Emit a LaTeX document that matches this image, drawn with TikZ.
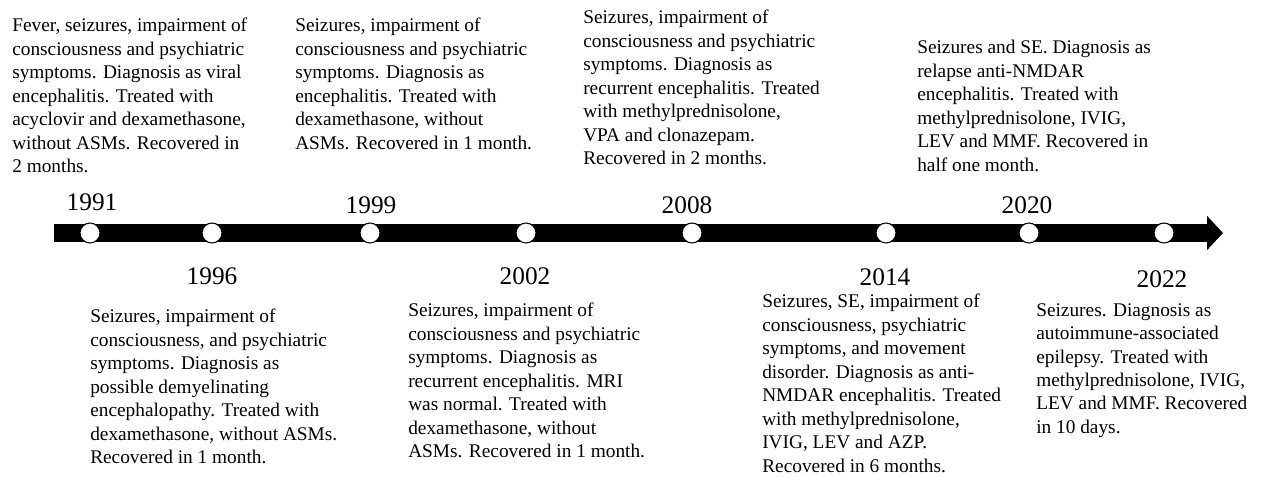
\documentclass[tikz,border=0pt]{standalone}
\usepackage{fontspec}
\setmainfont{Liberation Serif}
\usetikzlibrary{positioning,arrows.meta}
\newcommand{\evtext}{\fontsize{14.5}{17.6}\selectfont}
\newcommand{\yrtext}{\fontsize{19}{22}\selectfont}

\begin{document}
\begin{tikzpicture}[x=0.75pt, y=-0.75pt,
  evt/.style={anchor=north west, align=left, inner sep=0pt, font=\evtext},
  yr/.style={anchor=base, inner sep=0pt, font=\yrtext},
  dot/.style={circle, draw=black, fill=white, line width=0.8pt, minimum size=15pt, inner sep=0pt}]
  \useasboundingbox (0,0) rectangle (1265,476);
  % time axis
  \coordinate (tl-start) at (54,233);
  \coordinate (tl-end) at (1223,233);
  \draw[line width=13.5pt, -{Triangle[length=12pt, width=25pt]}] (tl-start) -- (tl-end);
  \foreach \x/\n in {90/1991, 212/1996, 370/1999, 526/2002, 692/2008, 886/2014, 1029/2020, 1164/2022}{
    \node[dot] (d\n) at (\x,233) {};
  }
  % years above / below the axis
  \node[yr] (y1991) at (92,210) {1991};
  \node[yr] (y1999) at (371,213) {1999};
  \node[yr] (y2008) at (687,213) {2008};
  \node[yr] (y2020) at (1027,213) {2020};
  \node[yr] (y1996) at (212,284) {1996};
  \node[yr] (y2002) at (525,284) {2002};
  \node[yr] (y2014) at (885,285) {2014};
  \node[yr] (y2022) at (1162,287) {2022};
  % episodes above
  \node[evt] (e1991) at (12,18) {Fever, seizures, impairment of\\consciousness and psychiatric\\symptoms. Diagnosis as viral\\encephalitis. Treated with\\acyclovir and dexamethasone,\\without ASMs. Recovered in\\2 months.};
  \node[evt] (e1999) at (295,18) {Seizures, impairment of\\consciousness and psychiatric\\symptoms. Diagnosis as\\encephalitis. Treated with\\dexamethasone, without\\ASMs. Recovered in 1 month.};
  \node[evt] (e2008) at (583,10) {Seizures, impairment of\\consciousness and psychiatric\\symptoms. Diagnosis as\\recurrent encephalitis. Treated\\with methylprednisolone,\\VPA and clonazepam.\\Recovered in 2 months.};
  \node[evt] (e2020) at (917,40) {Seizures and SE. Diagnosis as\\relapse anti-NMDAR\\encephalitis. Treated with\\methylprednisolone, IVIG,\\LEV and MMF. Recovered in\\half one month.};
  % episodes below
  \node[evt] (e1996) at (90,309) {Seizures, impairment of\\consciousness, and psychiatric\\symptoms. Diagnosis as\\possible demyelinating\\encephalopathy. Treated with\\dexamethasone, without ASMs.\\Recovered in 1 month.};
  \node[evt] (e2002) at (408,303) {Seizures, impairment of\\consciousness and psychiatric\\symptoms. Diagnosis as\\recurrent encephalitis. MRI\\was normal. Treated with\\dexamethasone, without\\ASMs. Recovered in 1 month.};
  \node[evt] (e2014) at (762,294) {Seizures, SE, impairment of\\consciousness, psychiatric\\symptoms, and movement\\disorder. Diagnosis as anti-\\NMDAR encephalitis. Treated\\with methylprednisolone,\\IVIG, LEV and AZP.\\Recovered in 6 months.};
  \node[evt] (e2022) at (1036,303) {Seizures. Diagnosis as\\autoimmune-associated\\epilepsy. Treated with\\methylprednisolone, IVIG,\\LEV and MMF. Recovered\\in 10 days.};
\end{tikzpicture}
\end{document}
